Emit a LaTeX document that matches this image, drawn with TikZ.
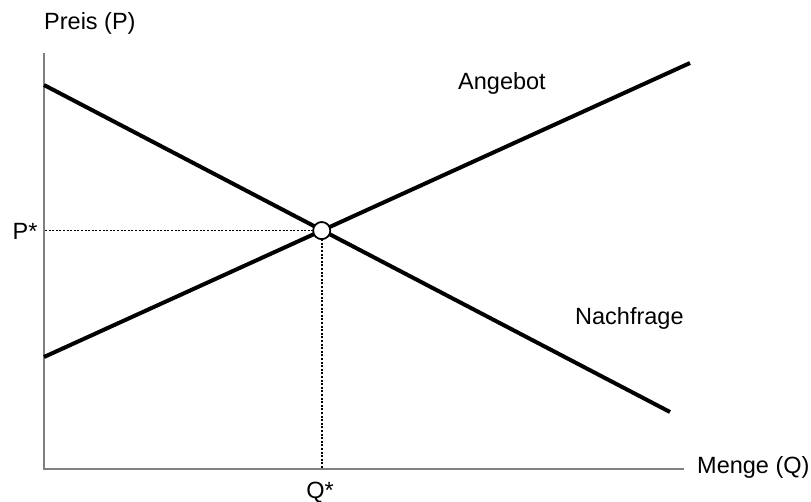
\documentclass[tikz,border=0pt]{standalone}
\usepackage{fontspec}
\setmainfont{Liberation Sans}
\begin{document}
\begin{tikzpicture}[x=1pt,y=-1pt,
  axis/.style={draw=black!50,line width=1.6pt},
  curve/.style={line width=4pt,line cap=butt},
  guide/.style={line width=1.8pt,dash pattern=on 2pt off 1.6pt},
  lbl/.style={inner sep=0pt,font=\fontsize{23.5}{27}\selectfont},
  eqpt/.style={circle,draw,line width=1.6pt,fill=white,minimum size=17pt,inner sep=0pt}]
\useasboundingbox (0,0) rectangle (811,502);
% axes
\coordinate (ytop) at (44,53);
\coordinate (orig) at (44,469);
\coordinate (xend) at (684,469);
\draw[axis] (ytop) -- (orig) -- (xend);
% curves
\coordinate (s0) at (44,357);
\coordinate (s1) at (690,63);
\coordinate (d0) at (44,85);
\coordinate (d1) at (670,412);
\draw[curve] (s0) -- (s1);
\draw[curve] (d0) -- (d1);
% equilibrium
\coordinate (pax) at (45,230.6);
\coordinate (qax) at (321.7,468);
\node[eqpt] (eq) at (321.7,230.6) {};
\draw[guide] (pax) -- (eq.west);
\draw[guide] (qax) -- (eq.south);
\node[eqpt] at (eq) {};
% labels
\node[lbl,anchor=base west] (py) at (44,29.5) {Preis (P)};
\node[lbl,anchor=west] (qx) at (697,467) {Menge (Q)};
\node[lbl,anchor=base west] (ps) at (12.5,239.3) {P*};
\node[lbl,anchor=base] (qs) at (320,498) {Q*};
\node[lbl,anchor=base west] (ang) at (458,90) {Angebot};
\node[lbl,anchor=base west] (nach) at (575,325) {Nachfrage};
\end{tikzpicture}
\end{document}
